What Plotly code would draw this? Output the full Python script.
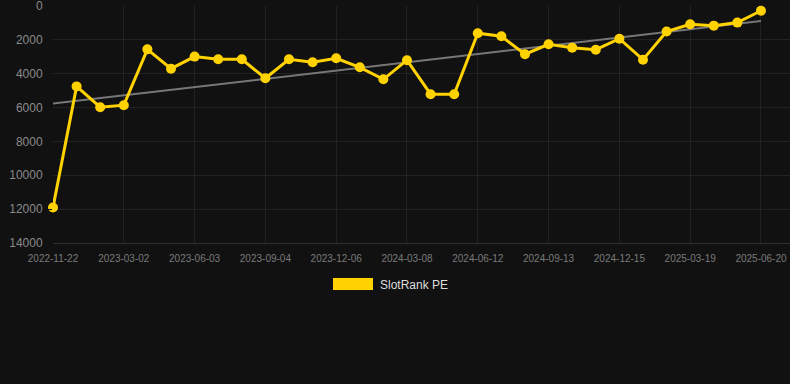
import numpy as np
import plotly.graph_objects as go

dates = [
    "2022-11-22", "2022-12-23", "2023-01-28", "2023-03-02", "2023-04-02", "2023-05-03",
    "2023-06-03", "2023-07-04", "2023-08-04", "2023-09-04", "2023-10-05", "2023-11-05",
    "2023-12-06", "2024-01-06", "2024-02-06", "2024-03-08", "2024-04-08", "2024-05-11",
    "2024-06-12", "2024-07-13", "2024-08-13", "2024-09-13", "2024-10-14", "2024-11-14",
    "2024-12-15", "2025-01-15", "2025-02-16", "2025-03-19", "2025-04-19", "2025-05-20",
    "2025-06-20",
]
rank = [
    11900, 4750, 5980, 5860, 2560, 3700, 2990, 3150, 3150, 4270, 3150, 3320, 3090,
    3620, 4330, 3200, 5210, 5210, 1610, 1790, 2850, 2260, 2460, 2580, 1930, 3170,
    1510, 1080, 1160, 980, 280,
]
tick_labels = dates[::3]
y_ticks = [0, 2000, 4000, 6000, 8000, 10000, 12000, 14000]
series_name = "SlotRank PE"

idx = np.arange(len(rank))
slope, intercept = np.polyfit(idx, rank, 1)
trend = slope * idx + intercept

GOLD = "#ffd200"
BG = "#111111"
GRID = "#222222"

fig = go.Figure()
fig.add_trace(go.Scatter(
    x=idx, y=trend, mode="lines",
    line=dict(color="#777777", width=2),
    hoverinfo="skip", showlegend=False,
))
fig.add_trace(go.Scatter(
    x=idx, y=rank, mode="lines+markers", name=series_name,
    line=dict(color=GOLD, width=3),
    marker=dict(color=GOLD, size=10),
    text=dates, showlegend=False, cliponaxis=False,
))

# legend drawn manually
fig.add_shape(type="rect", xref="paper", yref="paper",
              x0=(333 - 53) / 737, x1=(373 - 53) / 737,
              y0=(243 - 290) / 237, y1=(243 - 278) / 237,
              fillcolor=GOLD, line=dict(width=0))
fig.add_annotation(xref="paper", yref="paper", x=(378 - 53) / 737, y=(243 - 284.5) / 237,
                   text=series_name, showarrow=False, xanchor="left", yanchor="middle",
                   font=dict(size=12, color="#dddddd"))

fig.update_layout(
    width=790, height=384,
    paper_bgcolor=BG, plot_bgcolor=BG,
    margin=dict(l=53, r=0, t=6, b=141),
    font=dict(family="Liberation Sans, Arial, sans-serif"),
    showlegend=False,
)
fig.update_xaxes(
    range=[0, 31.23],
    tickmode="array", tickvals=idx[::3], ticktext=tick_labels,
    showgrid=True, gridcolor=GRID, gridwidth=1,
    zeroline=False, showline=True, linecolor="#2e2e2e",
    ticks="outside", ticklen=6, tickcolor=BG,
    tickfont=dict(size=10, color="#7a7a7a"),
)
fig.update_yaxes(
    range=[14000.5, -0.5],
    tickmode="array", tickvals=y_ticks, ticktext=[str(v) for v in y_ticks],
    showgrid=True, gridcolor=GRID, gridwidth=1,
    zeroline=False, showline=False,
    ticks="outside", ticklen=7, tickcolor=BG,
    tickfont=dict(size=12, color="#8a8a8a"),
    ticklabeloverflow="allow",
)

fig.write_html(
    "out.html",
    config={"displayModeBar": False},
    post_script="document.body.style.margin='0';document.body.style.background='#111111';",
)
